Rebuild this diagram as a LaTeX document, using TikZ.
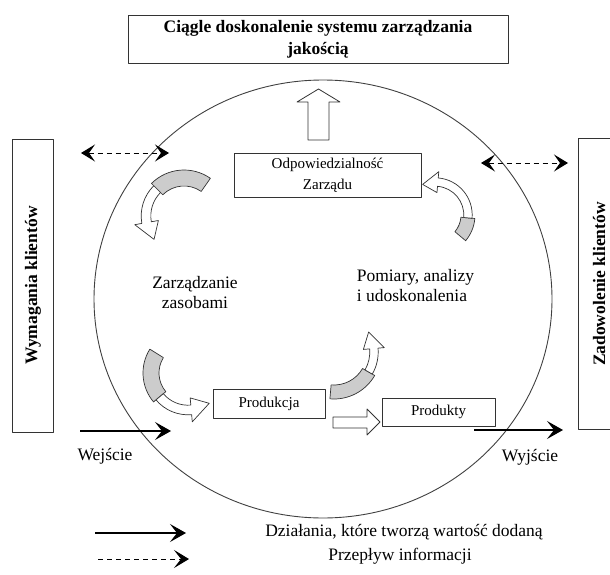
\documentclass[tikz,border=0pt]{standalone}
\usepackage{fontspec}
\setmainfont{Liberation Serif}
\usetikzlibrary{arrows.meta,calc,positioning}

% curved block arrow: centre, radius, half width, tail, split, head base, tip
\newcommand{\bentarrow}[7]{%
  \filldraw[fill=gray!40] ($(#1)+({#4}:{#2+#3})$) arc[start angle=#4, end angle=#5, radius={#2+#3}]
    -- ($(#1)+({#5}:{#2-#3})$) arc[start angle=#5, end angle=#4, radius={#2-#3}] -- cycle;
  \filldraw[fill=white] ($(#1)+({#5}:{#2+0.6*#3})$) arc[start angle=#5, end angle=#6, radius={#2+0.6*#3}]
    -- ($(#1)+({#6}:{#2+1.5*#3})$) -- ($(#1)+({#7}:{#2})$) -- ($(#1)+({#6}:{#2-1.5*#3})$)
    -- ($(#1)+({#6}:{#2-0.6*#3})$) arc[start angle=#6, end angle=#5, radius={#2-0.6*#3}] -- cycle;
}

\begin{document}
\begin{tikzpicture}[x=1pt, y=-1pt, line width=0.9pt, line join=round,
  box/.style={draw=black!80, inner sep=2pt, align=center, font=\fontsize{15}{21}\selectfont},
  sidebox/.style={draw=black!80, rotate=90, minimum height=41pt, font=\bfseries\fontsize{17.5}{20}\selectfont},
  plain/.style={align=center, font=\fontsize{17.5}{20}\selectfont},
  flow/.style={-{Stealth[length=16pt, width=18pt, inset=7pt]}, line width=1.1pt},
  info/.style={{Stealth[length=14pt, width=17pt, inset=6pt]}-{Stealth[length=14pt, width=17pt, inset=6pt]},
    dash pattern=on 5pt off 4pt, line width=1pt},
  hollow/.style={draw=black!80, fill=white, line width=0.8pt}]
  \useasboundingbox (0,0) rectangle (610,575);
  \clip (0,0) rectangle (610,575);

  % the process circle
  \coordinate (centre) at (323,299);
  \draw[black!75] (centre) ellipse[x radius=229, y radius=219];

  % boxes
  \node[box, minimum width=380pt, minimum height=48pt, font=\bfseries\fontsize{17.5}{22}\selectfont] (title) at (318,39)
    {Ciągle doskonalenie systemu zarządzania\\jakością};
  \node[box, minimum width=187pt, minimum height=44pt] (zarzad) at (327.5,175) {Odpowiedzialność\\Zarządu};
  \node[box, minimum width=112pt, minimum height=29pt] (produkcja) at (269,403.5) {Produkcja};
  \node[box, minimum width=113pt, minimum height=28pt] (produkty) at (438.5,412) {Produkty};
  \node[sidebox, minimum width=293pt] (wymagania) at (33,285.5) {Wymagania klientów};
  \node[sidebox, minimum width=291pt] (zadowolenie) at (599,284) {Zadowolenie klientów};

  % inner texts
  \node[plain] (zasoby) at (195,293) {Zarządzanie\\zasobami};
  \node[plain, align=left, anchor=west] (pomiary) at (353,286) {Pomiary, analizy\\i udoskonalenia};

  % hollow arrows
  \draw[hollow] (308,140) -- (308,102) -- (297,102) -- (318.5,89) -- (340,102) -- (329,102) -- (329,140) -- cycle;
  \draw[hollow] (333,417) -- (367,417) -- (367,409) -- (380,422) -- (367,435) -- (367,428) -- (333,428) -- cycle;

  % curved arrows
  \begin{scope}[line width=0.7pt, draw=black!80]
    \bentarrow{184,216}{38}{8}{-55}{-135}{-190}{-218}
    \bentarrow{435,215}{33}{7}{40}{5}{-85}{-112}
    \bentarrow{188,373}{37}{8}{212}{140}{85}{55}
    \bentarrow{334,352}{40}{7}{95}{30}{-5}{-30}
  \end{scope}

  % input and output
  \coordinate (in1) at (80,431);
  \coordinate (in2) at (171,431);
  \coordinate (out1) at (474,430);
  \coordinate (out2) at (563,430);
  \draw[flow] (in1) -- (in2);
  \draw[flow] (out1) -- (out2);
  \node[plain] (wejscie) at (105,456) {Wejście};
  \node[plain] (wyjscie) at (530,457) {Wyjście};

  % information exchange
  \coordinate (infoL1) at (81,153);
  \coordinate (infoL2) at (169,153);
  \coordinate (infoR1) at (481,163);
  \coordinate (infoR2) at (568,163);
  \draw[info] (infoL1) -- (infoL2);
  \draw[info] (infoR1) -- (infoR2);

  % legend
  \coordinate (leg1a) at (95,533);
  \coordinate (leg1b) at (186,533);
  \coordinate (leg2a) at (98,559);
  \coordinate (leg2b) at (189,559);
  \draw[flow] (leg1a) -- (leg1b);
  \draw[-{Stealth[length=15pt, width=18pt, inset=7pt]}, dash pattern=on 5pt off 4pt, line width=1pt] (leg2a) -- (leg2b);
  \node[plain] (leg1) at (404,532) {Działania, które tworzą wartość dodaną};
  \node[plain] (leg2) at (400,556) {Przepływ informacji};
\end{tikzpicture}
\end{document}
